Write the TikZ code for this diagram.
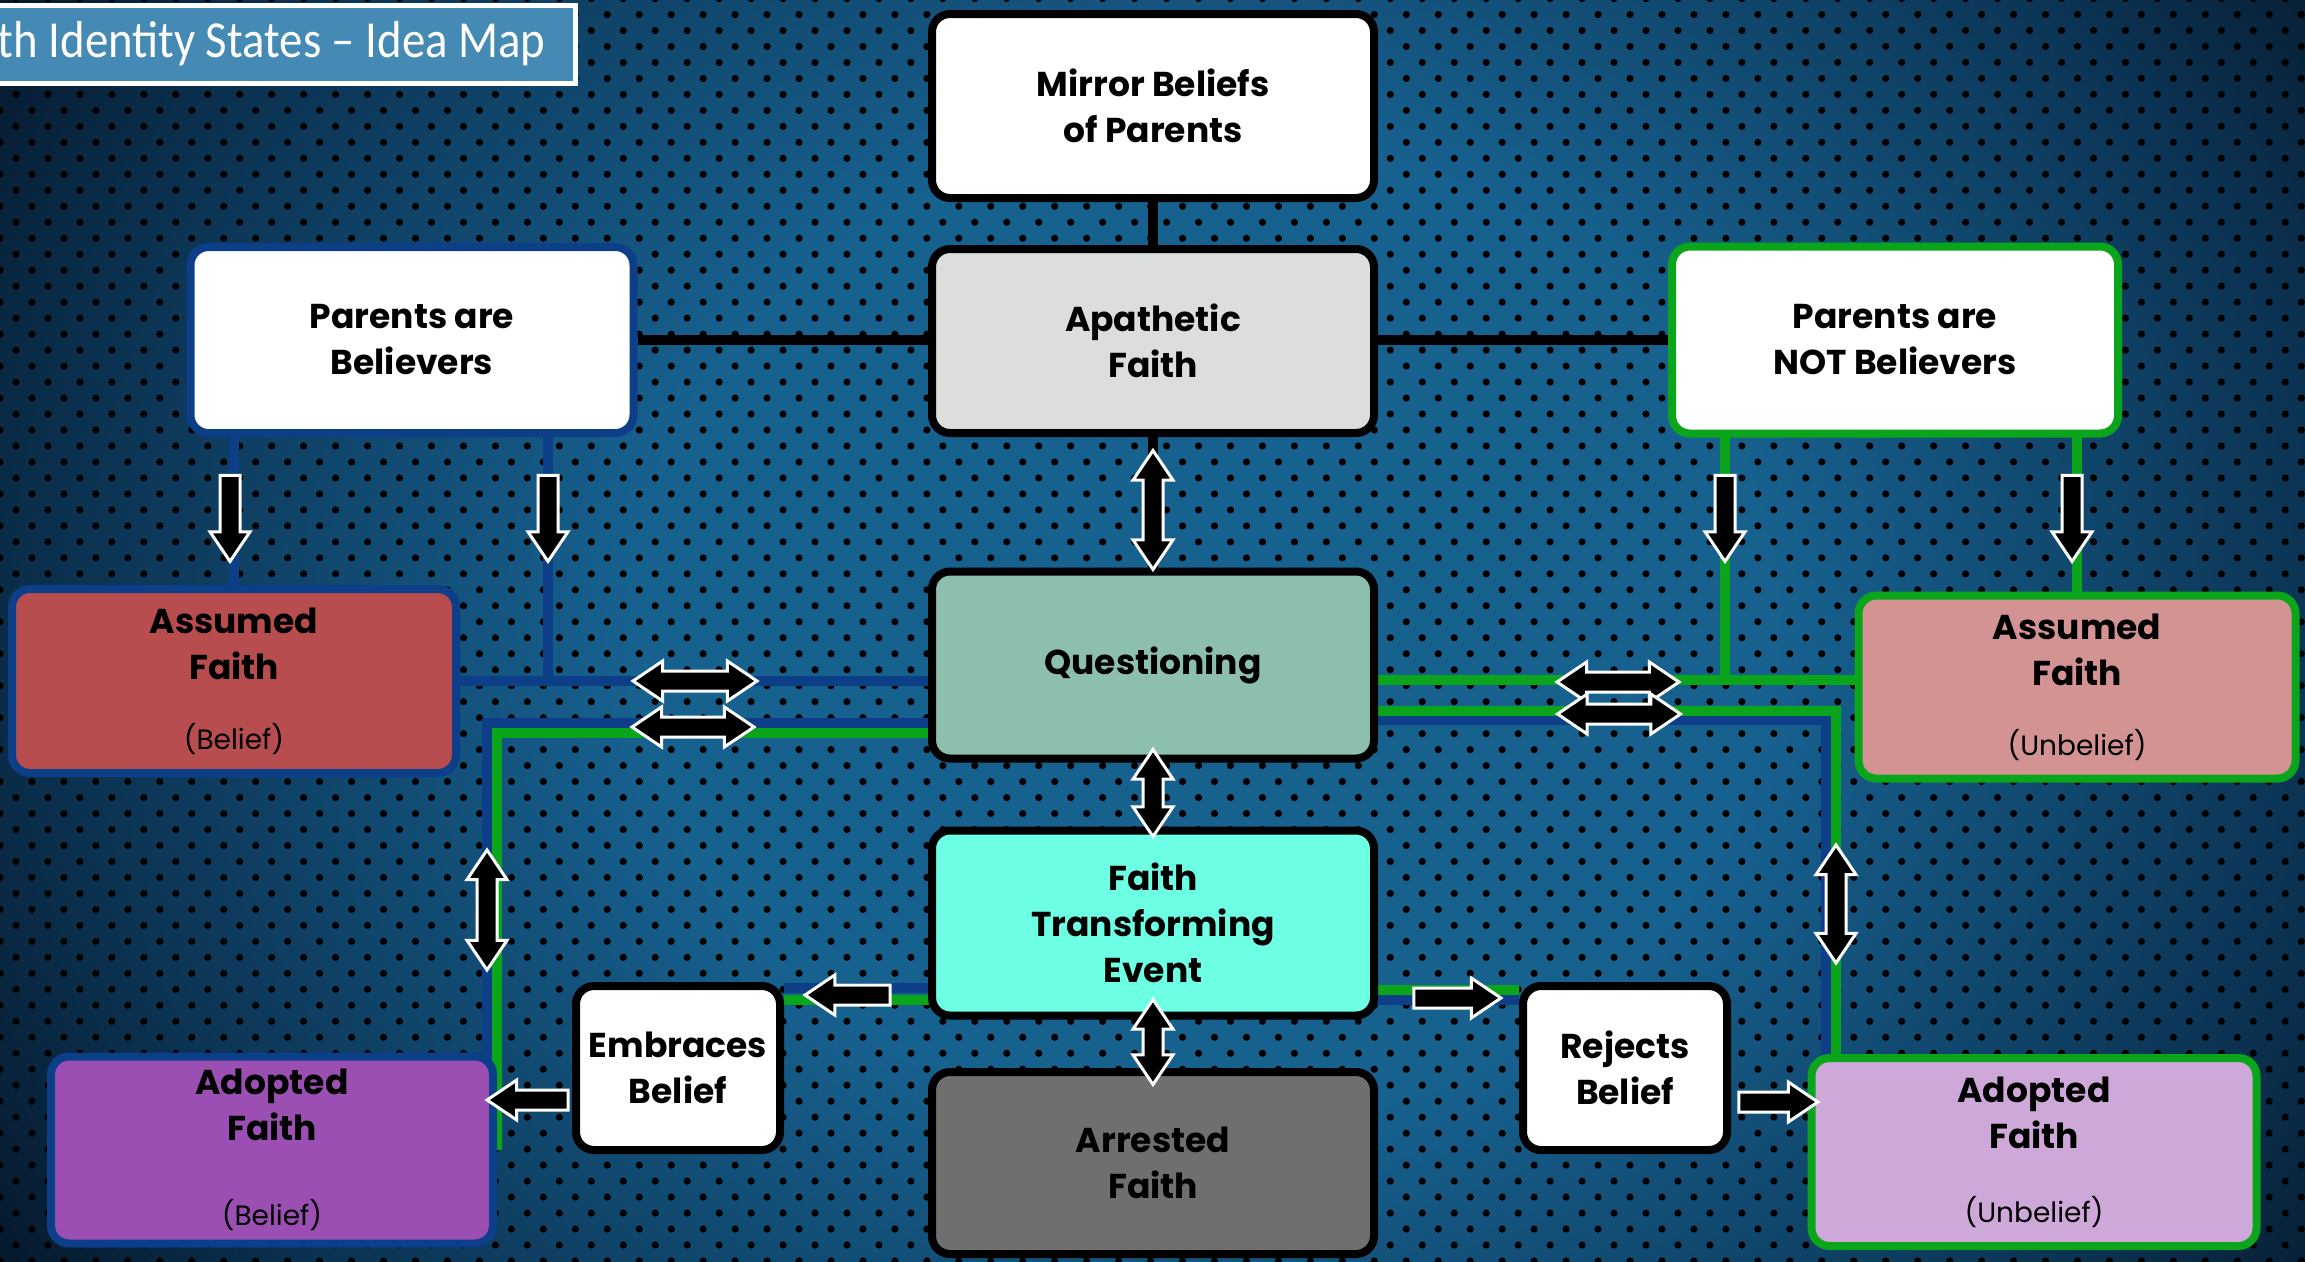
\documentclass[tikz,border=0pt]{standalone}
\usepackage{fontspec}
\setmainfont{Poppins}
\newfontfamily\titlefont[FakeStretch=0.9]{Carlito}
\usetikzlibrary{shapes.arrows, calc, patterns.meta}

\definecolor{plateIn}{HTML}{17618F}
\definecolor{plateMid}{HTML}{0B3150}
\definecolor{plateOut}{HTML}{030A16}
\definecolor{titleBlue}{HTML}{448AB4}
\definecolor{believerBlue}{HTML}{0C3F87}
\definecolor{skepticGreen}{HTML}{0BA51B}
\definecolor{apathGray}{HTML}{DCDDDD}
\definecolor{questTeal}{HTML}{8DBFAF}
\definecolor{eventCyan}{HTML}{6CFFE4}
\definecolor{arrestGray}{HTML}{6F6F6F}
\definecolor{assumedRed}{HTML}{B84D4F}
\definecolor{assumedPink}{HTML}{D49393}
\definecolor{adoptedPurple}{HTML}{9B4FB3}
\definecolor{adoptedLilac}{HTML}{CFA8DA}

\pgfdeclareradialshading{plate}{\pgfpoint{0bp}{0bp}}{color(0bp)=(plateIn); color(11bp)=(plateIn); color(22bp)=(plateMid); color(30bp)=(plateOut); color(50bp)=(plateOut)}

\pgfdeclarelayer{back}
\pgfdeclarelayer{wires}
\pgfsetlayers{back,wires,main}

\newcommand\subLabel[1]{{\mdseries\fontsize{28}{34}\selectfont #1}}

\begin{document}
\begin{tikzpicture}[x=1pt, y=-1pt,
    stateBox/.style={
        draw=black, line width=8pt, rounded corners=18pt,
        minimum width=442pt, minimum height=184pt, inner sep=0pt,
        align=center, text=black, font=\bfseries\fontsize{34.5}{46}\selectfont
      },
    smallBox/.style={stateBox, fill=white, minimum width=204pt, minimum height=164pt},
    titleBox/.style={
        fill=titleBlue, draw=white, line width=5pt, text=white,
        inner xsep=30pt, minimum height=78pt,
        font=\titlefont\fontsize{52}{56}\selectfont
      },
    blackLine/.style={draw=black, line width=10pt},
    blueLine/.style={draw=believerBlue, line width=10pt},
    greenLine/.style={draw=skepticGreen, line width=10pt},
    oneWayArrow/.style={
        single arrow, fill=black, draw=white, line width=3pt,
        inner sep=0pt, inner ysep=8.5pt, minimum width=0pt,
        single arrow head extend=10pt, single arrow tip angle=68
      },
    twoWayArrow/.style={
        double arrow, fill=black, draw=white, line width=3pt,
        inner sep=0pt, inner ysep=8.5pt, minimum width=0pt,
        double arrow head extend=10pt, double arrow tip angle=68
      }
  ]
  \useasboundingbox (0,0) rectangle (2305,1261);

  % Perforated plate
  \begin{pgfonlayer}{back}
    \begin{scope}
      \clip (0,0) rectangle (2305,1261);
      \shade[shading=plate] (-100,-500) rectangle (2505,1761);
      \fill[pattern={Dots[distance=22.6pt, angle=45, radius=3.6pt]}, pattern color=black] (0,0) rectangle (2305,1261);
    \end{scope}
  \end{pgfonlayer}

  \node[titleBox, anchor=east] (T) at (578,44) {th Identity States – Idea Map};

  % Middle column
  \node[stateBox, fill=white] (MB) at (1153,106) {Mirror Beliefs\\of Parents};
  \node[stateBox, fill=apathGray] (AF) at (1153,341) {Apathetic\\Faith};
  \node[stateBox, fill=questTeal, minimum height=187pt] (Q) at (1153,665) {Questioning};
  \node[stateBox, fill=eventCyan, minimum height=185pt] (FTE) at (1153,923) {Faith\\Transforming\\Event};
  \node[stateBox, fill=arrestGray, minimum height=182pt] (ArF) at (1153,1163) {Arrested\\Faith};

  % Parents
  \node[stateBox, fill=white, draw=believerBlue, minimum width=443pt, minimum height=186pt] (PB) at (412,340) {Parents are\\Believers};
  \node[stateBox, fill=white, draw=skepticGreen, minimum width=446pt, minimum height=187pt] (PN) at (1895,340) {Parents are\\NOT Believers};

  % Belief side
  \node[stateBox, fill=assumedRed, draw=believerBlue, minimum width=444pt] (AsB) at (234,681) {Assumed\\Faith\\[24pt]\subLabel{(Belief)}};
  \node[stateBox, fill=adoptedPurple, draw=believerBlue, minimum height=187pt] (AdB) at (272,1150) {Adopted\\Faith\\[39pt]\subLabel{(Belief)}};
  \node[smallBox] (EB) at (678,1068) {Embraces\\Belief};

  % Unbelief side
  \node[stateBox, fill=assumedPink, draw=skepticGreen, minimum width=437pt, minimum height=183pt] (AsU) at (2077,687) {Assumed\\Faith\\[24pt]\subLabel{(Unbelief)}};
  \node[stateBox, fill=adoptedLilac, draw=skepticGreen, minimum width=445pt, minimum height=188pt] (AdU) at (2034,1152) {Adopted\\Faith\\[28pt]\subLabel{(Unbelief)}};
  \node[smallBox] (RB) at (1625,1068) {Rejects\\Belief};

  % Links behind the boxes
  \begin{pgfonlayer}{wires}
    \draw[blackLine] (MB) -- (ArF);
    \draw[blackLine] (PB) -- (PB -| PN);
    % believers
    \draw[blueLine] (PB -| AsB) -- (AsB);
    \draw[blueLine] ([xshift=136pt]PB.center) |- (AsB);
    \draw[blueLine] (AsB) -- (AsB -| Q);
    \draw[blueLine] ([yshift=-58pt]Q.center) -| ([xshift=-10pt]AdB.east);
    \draw[blueLine] ([yshift=-65pt]FTE.center) -- ([yshift=-65pt]FTE.center -| EB.east);
    \draw[blueLine] ([yshift=-55pt]Q.center) -| ([xshift=18pt]AdU.west);
    \draw[blueLine] ([yshift=-77pt]FTE.center) -- ([yshift=-77pt]FTE.center -| RB.west);
    % non-believers
    \draw[greenLine] (PN -| AsU) -- (AsU);
    \draw[greenLine] ([xshift=-170pt]PN.center) |- ([yshift=-15pt]Q.center);
    \draw[greenLine] ([yshift=-15pt]Q.center) -- ([yshift=-15pt]Q.center -| AsU);
    \draw[greenLine] ([yshift=-68pt]Q.center) -| (AdB.east);
    \draw[greenLine] ([yshift=-77pt]FTE.center) -- ([yshift=-77pt]FTE.center -| EB.east);
    \draw[greenLine] ([yshift=-46pt]Q.center) -| ([xshift=28pt]AdU.west);
    \draw[greenLine] ([yshift=-67pt]FTE.center) -- ([yshift=-67pt]FTE.center -| RB.west);
  \end{pgfonlayer}

  % Arrows from the parents
  \node[oneWayArrow, rotate=-90, minimum height=86pt] (PBa) at (230,511) {};
  \node[oneWayArrow, rotate=-90, minimum height=86pt] (PBb) at (548,511) {};
  \node[oneWayArrow, rotate=-90, minimum height=86pt] (PNa) at (1725,511) {};
  \node[oneWayArrow, rotate=-90, minimum height=86pt] (PNb) at (2072,511) {};

  % Arrows round Questioning
  \node[twoWayArrow, minimum height=124pt] (QLa) at (695,681) {};
  \node[twoWayArrow, minimum height=122pt] (QLb) at (693,727) {};
  \node[twoWayArrow, minimum height=122pt] (QRa) at (1618,682) {};
  \node[twoWayArrow, minimum height=123pt] (QRb) at (1619,714) {};
  \node[twoWayArrow, rotate=90, minimum height=119pt] (AFQ) at (1153,510) {};
  \node[twoWayArrow, rotate=90, minimum height=87pt] (QFTE) at (1153,793) {};
  \node[twoWayArrow, rotate=90, minimum height=85pt] (FTEA) at (1153,1042) {};
  \node[twoWayArrow, rotate=90, minimum height=120pt] (AdBv) at (487,910) {};
  \node[twoWayArrow, rotate=90, minimum height=118pt] (AdUv) at (1836,904) {};

  % Event outcomes
  \node[oneWayArrow, rotate=180, minimum height=85pt] (toEB) at (855,995) {};
  \node[oneWayArrow, rotate=180, minimum height=81pt] (toAdB) at (535,1100) {};
  \node[oneWayArrow, minimum height=87pt] (toRB) at (1450,998) {};
  \node[oneWayArrow, minimum height=79pt] (toAdU) at (1771,1102) {};
\end{tikzpicture}
\end{document}
